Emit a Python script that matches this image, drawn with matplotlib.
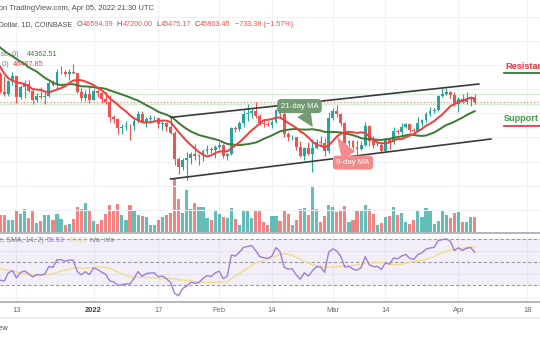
import numpy as np
import pandas as pd
import matplotlib
matplotlib.use("Agg")
import matplotlib.pyplot as plt
import matplotlib.dates as mdates

# closes before the visible window (Nov 1 - Dec 8 2021), only feed the indicators
warmup_close = [61300, 63200, 62900, 61400, 61000, 61500, 63300, 67500, 66900, 64900,
                64800, 64100, 64400, 65500, 63600, 60100, 60400, 56900, 58100, 59700,
                58700, 56300, 57600, 57200, 58900, 53700, 54700, 57300, 57800, 56950,
                57200, 56500, 53600, 49200, 49400, 50600, 50600, 50500]

# daily BTCUSD candles, Dec 9 2021 - Apr 5 2022
open_ = [50480, 47570, 47170, 49380, 50110, 46720, 48380, 48880, 47640, 46200, 46860, 46680, 46910,
         48930, 48620, 50830, 50860, 50430, 50800, 50710, 47540, 46470, 47130,
         46210, 47740, 47300, 46430, 45830, 43430, 43080, 41560, 41680, 41850, 41830, 42740, 43920,
         42590, 43100, 43180, 43210, 42250, 42380, 41680, 40700, 36470, 35080, 36280, 36690, 37340,
         36970, 37090, 37720, 38170, 37920,
         38480, 38740, 36950, 37330, 41570, 41400, 42410, 43850, 44070, 44400, 43520, 42390, 42200,
         42060, 42550, 44560, 43880, 40550, 40000, 40100, 38380, 37010, 38250, 37250, 38330, 39220,
         39120, 37710,
         43180, 44420, 43920, 42450, 39150, 39400, 38420, 38060, 38740, 41980, 39440, 38730, 38810,
         37790, 39670, 39280, 41120, 40920, 41760, 42220, 41270, 41020, 42370, 42890, 43960, 44320,
         44510, 46820, 47130, 47450, 47070,
         45530, 46290, 45820, 46410, 46594.39]
high = [50800, 50100, 49480, 50790, 50200, 48680, 49500, 49450, 48000, 47350, 48350, 47570, 49330,
        49580, 51380, 51830, 51200, 51280, 52090, 50710, 48130, 47880, 48550,
        47940, 47990, 47580, 47530, 47070, 43750, 43150, 42300, 42790, 42250, 43100, 44350, 44460,
        43460, 43800, 43480, 43210, 42680, 42580, 43500, 41100, 36840, 36560, 37550, 37550, 38920,
        37250, 38030, 38730, 38380, 38740,
        39270, 38850, 37400, 41730, 41950, 42660, 44500, 45500, 44800, 45850, 43920, 43000, 42760,
        42880, 44760, 44580, 44200, 40960, 40460, 40140, 39480, 38460, 39280, 39720, 39740, 40300,
        39880, 44240,
        44950, 45400, 44100, 42530, 39650, 39660, 39570, 39400, 42600, 42040, 40240, 39380, 39310,
        39930, 39870, 41720, 41480, 42330, 42400, 42300, 41530, 43350, 43000, 44220, 45100, 44820,
        46960, 48190, 48100, 47710, 47600,
        46720, 47200, 47440, 46890, 47200.00]
low = [47330, 46900, 46830, 48650, 45700, 46300, 46550, 47550, 45480, 45950, 46420, 45580, 46650,
       48460, 48060, 50420, 50210, 49450, 50460, 47320, 46100, 46060, 45680,
       46210, 46650, 45700, 45500, 42500, 42430, 40610, 40500, 41200, 39650, 41270, 42460, 42320,
       41750, 42600, 42600, 41550, 41260, 41150, 40570, 35450, 34020, 34630, 32920, 35700, 36250,
       35510, 36170, 37300, 37360, 36640,
       38020, 36630, 36250, 37070, 40980, 41120, 41670, 42680, 43150, 43230, 42000, 41760, 41870,
       41570, 42430, 43330, 40080, 39450, 39640, 38000, 36800, 36350, 37050, 34320, 38020, 38580,
       37010, 37470,
       42850, 43330, 41840, 38600, 38650, 38090, 37160, 37880, 38660, 38550, 38240, 38660, 37580,
       37590, 38120, 38850, 40540, 40150, 41520, 40920, 40500, 40900, 41820, 42580, 43600, 44090,
       44420, 46660, 46950, 46570, 45220,
       44250, 45640, 45550, 45140, 45475.17]
close = [47570, 47170, 49380, 50110, 46720, 48380, 48880, 47640, 46200, 46860, 46680, 46910, 48930,
         48620, 50830, 50860, 50430, 50800, 50710, 47540, 46470, 47130, 46210,
         47740, 47300, 46430, 45830, 43430, 43080, 41560, 41680, 41850, 41830, 42740, 43920, 42590,
         43100, 43180, 43210, 42250, 42380, 41680, 40700, 36470, 35080, 36280, 36690, 37340, 36970,
         37090, 37720, 38170, 37920, 38480,
         38740, 36950, 37330, 41570, 41400, 42410, 43850, 44070, 44400, 43520, 42390, 42200, 42060,
         42550, 44560, 43880, 40550, 40000, 40100, 38380, 37010, 38250, 37250, 38330, 39220, 39120,
         37710, 43180,
         44420, 43920, 42450, 39150, 39400, 38420, 38060, 38740, 41980, 39440, 38730, 38810, 37790,
         39670, 39280, 41120, 40920, 41760, 42220, 41270, 41020, 42370, 42890, 43960, 44320, 44510,
         46820, 47130, 47450, 47070, 45530,
         46290, 45820, 46410, 46590, 45863.45]
volume = [15600, 15600, 10500, 10500, 20100, 16500, 21000, 12600, 18600, 8100, 9600, 15600, 15000,
          11100, 16200, 12000, 6000, 7200, 11700, 22500, 20400, 26400, 18600,
          9600, 6900, 11100, 16200, 24300, 20100, 25200, 15000, 10800, 24600, 19800, 15600, 14400,
          13500, 6600, 6600, 10800, 13500, 15300, 17400, 48000, 29400, 17400, 37500, 21000, 26400,
          22500, 22200, 12900, 10500, 18600,
          16200, 13500, 12900, 21900, 11400, 6600, 19500, 20100, 12600, 19500, 19200, 9000, 6600,
          14100, 14100, 9600, 18600, 16200, 6600, 11100, 20700, 21900, 15000, 40500, 20400, 8700,
          14100, 24600,
          22200, 17700, 18900, 23400, 8700, 10500, 18900, 18900, 24000, 20700, 15900, 6000, 8100,
          13500, 14700, 22200, 15600, 16800, 8700, 7500, 11100, 19500, 13500, 21300, 18900, 7500,
          10200, 18600, 15000, 12600, 17400,
          18000, 8700, 8700, 13500, 13500]
first_day = "2021-12-09"

# drawn channel lines (date, price)
upper_channel = (["2022-01-20", "2022-04-06"], [43320, 48840])
lower_channel = (["2022-01-20", "2022-04-09"], [33130, 39750])

tick_dates = ["2021-12-13", "2022-01-01", "2022-01-17", "2022-02-01", "2022-02-14",
              "2022-03-01", "2022-03-14", "2022-04-01", "2022-04-18"]
tick_labels = ["13", "2022", "17", "Feb", "14", "Mar", "14", "Apr", "18"]

UP, DOWN = "#26a69a", "#ef5350"
W, H = 540, 340

dates = pd.date_range(first_day, periods=len(close))
x = mdates.date2num(dates)
o, h, l, c = map(np.array, (open_, high, low, close))

full = pd.Series(warmup_close + close, dtype=float)
n = len(close)
ma9 = full.rolling(9).mean().values[-n:]
ma21 = full.rolling(21).mean().values[-n:]
delta = full.diff()
gain = delta.clip(lower=0).ewm(alpha=1 / 14, adjust=False).mean()
loss = (-delta.clip(upper=0)).ewm(alpha=1 / 14, adjust=False).mean()
rsi = 100 - 100 / (1 + gain / loss)
rsi_ma = rsi.rolling(14).mean()
rsi, rsi_ma = rsi.values[-n:], rsi_ma.values[-n:]

fig = plt.figure(figsize=(W / 100, H / 100), dpi=100)
plt.rcParams["font.family"] = ["Liberation Sans", "DejaVu Sans"]

jan1 = mdates.date2num(pd.Timestamp("2022-01-01"))
xlim = (jan1 - 93.5 / 4.055, jan1 + (W - 93.5) / 4.055)
tx = mdates.date2num(pd.to_datetime(tick_dates))

# volume (behind) and price panes share the same box
vax = fig.add_axes([0, 1 - 232 / H, 1, 232 / H])
ax = fig.add_axes([0, 1 - 232 / H, 1, 232 / H])
ax.set_zorder(2)
ax.patch.set_visible(False)
for a in (vax, ax):
    a.set_xlim(*xlim)
    a.set_xticks([])
    a.set_yticks([])
    for s in a.spines.values():
        s.set_visible(False)

up = c >= o
vax.bar(x, volume, width=0.78, color=np.where(up, UP, DOWN), alpha=0.72, linewidth=0)
vax.set_ylim(0, 232 * 900)
for t in tx:
    vax.axvline(t, color="#eef1f7", lw=0.8, zorder=0)

ax.set_ylim(44000 - 118.7 * 165.3, 44000 + 113.3 * 165.3)
for p in range(24000, 64001, 4000):
    ax.axhline(p, color="#eef1f7", lw=0.8, zorder=0)

ax.axhline(h[-1], color="#d5ecd5", lw=1.0, zorder=1)
ax.axhline(l[-1], color="#d5ecd5", lw=1.0, zorder=1)
ax.axhline(c[-1], color=DOWN, lw=0.8, ls=(0, (1, 2)), alpha=0.8, zorder=1)

cols = np.where(up, UP, DOWN)
ax.vlines(x, l, h, colors=cols, lw=0.8, zorder=3)
ax.bar(x, np.maximum(np.abs(c - o), 60), bottom=np.minimum(o, c), width=0.7,
       color=cols, linewidth=0, zorder=4)

ax.plot(x, ma21, color="#3d7a34", lw=1.4, zorder=5)
ax.plot(x, ma9, color="#f23c3c", lw=1.4, zorder=5)

for xs, ys in (upper_channel, lower_channel):
    ax.plot(mdates.date2num(pd.to_datetime(xs)), ys, color="#3a3a3a", lw=1.2, zorder=6)

ax.annotate("21-day MA", xy=(mdates.date2num(pd.Timestamp("2022-02-24 02:00")), 41700),
            xytext=(mdates.date2num(pd.Timestamp("2022-02-20 19:00")), 45200),
            ha="center", va="center", fontsize=5.6, color="white", zorder=7,
            bbox=dict(boxstyle="round,pad=0.45,rounding_size=0.5", fc="#739b73", ec="none"),
            arrowprops=dict(arrowstyle="wedge,tail_width=1.4", fc="#739b73", ec="none",
                            shrinkA=0, shrinkB=0, mutation_scale=8))
ax.annotate("9-day MA", xy=(mdates.date2num(pd.Timestamp("2022-03-02 01:00")), 40080),
            xytext=(mdates.date2num(pd.Timestamp("2022-03-06")), 35850),
            ha="center", va="center", fontsize=5.6, color="white", zorder=7,
            bbox=dict(boxstyle="round,pad=0.45,rounding_size=0.5", fc="#f08c8c", ec="none"),
            arrowprops=dict(arrowstyle="wedge,tail_width=1.4", fc="#f08c8c", ec="none",
                            shrinkA=0, shrinkB=0, mutation_scale=8))

# RSI pane
rax = fig.add_axes([0, 38 / H, 1, 69 / H])
rax.set_xlim(*xlim)
rax.set_ylim(30 - 17 / 1.15, 70 + 6 / 1.15)
rax.axhspan(30, 70, color="#7e57c2", alpha=0.09, lw=0)
for t in tx:
    rax.axvline(t, color="#eef1f7", lw=0.8, zorder=0)
for g in (20, 40, 60):
    rax.axhline(g, color="#eef1f7", lw=0.8, zorder=0)
for g in (30, 50, 70):
    rax.axhline(g, color="#9598a1", lw=0.8, ls=(0, (3, 2)), zorder=1)
rax.plot(x, rsi_ma, color="#f2dc86", lw=1.0, zorder=2)
rax.plot(x, rsi, color="#9c7fd8", lw=1.0, zorder=3)
rax.set_yticks([])
rax.set_xticks(tx)
rax.set_xticklabels(tick_labels)
rax.tick_params(axis="x", length=0, pad=3.5, labelsize=5.4, labelcolor="#6a6d78")
for lab in rax.get_xticklabels():
    if lab.get_text() == "2022":
        lab.set_fontweight("bold")
        lab.set_color("#3a3d46")
for k in ("left", "right"):
    rax.spines[k].set_visible(False)
for k in ("top", "bottom"):
    rax.spines[k].set_color("#b2b5be")
    rax.spines[k].set_linewidth(1.4)

# texts
renderer = fig.canvas.get_renderer()


def ftext(px, py, s, **kw):
    return fig.text(px / W, 1 - py / H, s, va="center", **kw)


def chain(px, py, parts, size):
    for s, col in parts:
        t = ftext(px, py, s, color=col, fontsize=size, ha="left")
        px += t.get_window_extent(renderer).width


GRAY, DARK = "#787b86", "#4a4d56"
ftext(154, 8, "Bitcoin chart published on TradingView.com, Apr 05, 2022 21:30 UTC",
      ha="right", fontsize=5.5, color=DARK)
ftext(72, 25, "Bitcoin / U.S. Dollar, 1D, COINBASE", ha="right", fontsize=5.2, color=DARK)
chain(77, 25, [("O", DARK), ("46594.39", DOWN), ("  H", DARK), ("47200.00", DOWN),
               ("  L", DARK), ("45475.17", DOWN), ("  C", DARK), ("45863.45", DOWN),
               ("  \u2212733.38 (\u22121.57%)", DOWN)], 5.2)
ftext(19, 55, "MA (21, close, 0)", ha="right", fontsize=5.2, color=GRAY)
ftext(27, 55, "44362.51", ha="left", fontsize=5.2, color="#3d7a34")
ftext(9, 65, "MA (9, close, 0)", ha="right", fontsize=5.2, color=GRAY)
ftext(13, 65, "46467.85", ha="left", fontsize=5.2, color="#f23c3c")
ftext(44, 241, "RSI (14, close, SMA, 14, 2)", ha="right", fontsize=5.0, color=GRAY)
chain(47, 241, [("58.53", "#9c7fd8"), ("  65.27", "#e8cf6a"), ("  n/a", GRAY), ("  n/a", GRAY)], 5.0)

ftext(505, 66.5, "Resistance", ha="left", fontsize=6.6, fontweight="bold", color="#f23645")
ftext(504, 118.5, "Support", ha="left", fontsize=6.6, fontweight="bold", color="#43a047")
fig.add_artist(plt.Line2D([504 / W, 1], [1 - 73 / H] * 2, color="#2e7d32", lw=1.3))
fig.add_artist(plt.Line2D([504 / W, 1], [1 - 125.5 / H] * 2, color="#f23645", lw=1.3))

fig.add_artist(plt.Line2D([0, 1], [1 - 318 / H] * 2, color="#eceef2", lw=1.5))
ftext(9, 329, "TradingView", ha="right", fontsize=5.4, color=DARK)

fig.savefig("out.png", dpi=100)
